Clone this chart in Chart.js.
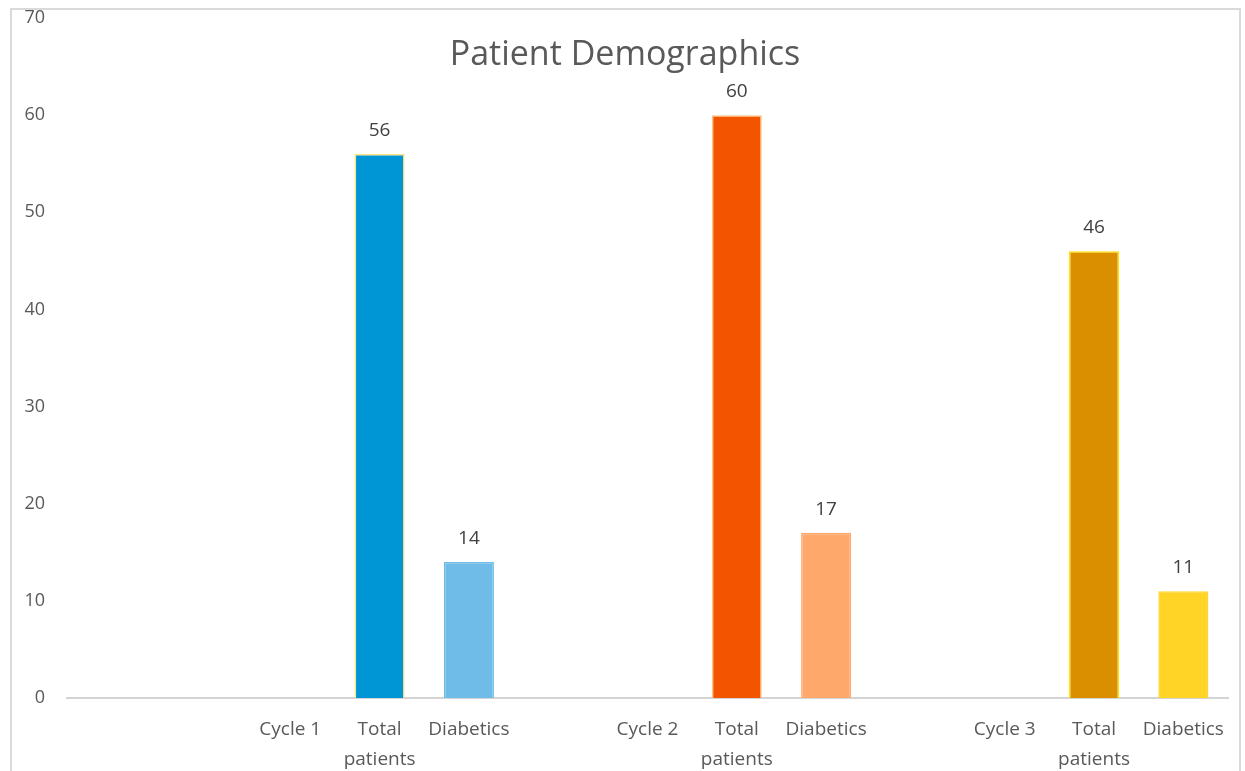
<!DOCTYPE html>
<html>
<head>
<meta charset="utf-8">
<title>Patient Demographics</title>
<script src="https://cdn.jsdelivr.net/npm/chart.js@4.4.1/dist/chart.umd.min.js"></script>
<style>
  html, body { margin: 0; padding: 0; background: #fff; }
  canvas { display: block; }
</style>
</head>
<body>
<canvas id="chart" width="1245" height="771"></canvas>
<script>
// category slots (empty ones are the gaps between cycles)
const categories = ['', '', 'Cycle 1', ['Total', 'patients'], 'Diabetics', '',
                    'Cycle 2', ['Total', 'patients'], 'Diabetics', '',
                    'Cycle 3', ['Total', 'patients'], 'Diabetics'];
const patientCounts = [null, null, null, 56, 14, null, null, 60, 17, null, null, 46, 11];
const yTicks = [0, 10, 20, 30, 40, 50, 60, 70];

const barColors = [null, null, null, '#0096d6', '#6fbce8', null,
                   null, '#f35400', '#ffa86c', null,
                   null, '#d98f00', '#ffd426'];
const barBorders = [null, null, null, '#ffe27a', '#6fbce8', null,
                    null, '#ffc27a', '#ffa86c', null,
                    null, '#ffe000', '#ffd426'];

const fontFamily = '"Open Sans", "Noto Sans", sans-serif';

// frame around the whole picture + title drawn over the plot
const framePlugin = {
    id: 'frame',
    beforeDraw(chart) {
        const ctx = chart.ctx;
        ctx.save();
        ctx.strokeStyle = '#dadada';
        ctx.lineWidth = 2;
        ctx.strokeRect(11, 9, 1229, 775);
        ctx.restore();
    },
    afterDraw(chart) {
        const ctx = chart.ctx;
        ctx.save();
        ctx.fillStyle = '#595959';
        ctx.font = '34px ' + fontFamily;
        ctx.textAlign = 'center';
        ctx.textBaseline = 'middle';
        ctx.fillText('Patient Demographics', 625, 55);
        ctx.restore();
    }
};

// value labels on top of the bars
const valueLabels = {
    id: 'valueLabels',
    afterDatasetsDraw(chart) {
        const ctx = chart.ctx;
        const meta = chart.getDatasetMeta(0);
        ctx.save();
        ctx.fillStyle = '#404040';
        ctx.font = '19px ' + fontFamily;
        ctx.textAlign = 'center';
        ctx.textBaseline = 'bottom';
        meta.data.forEach((bar, i) => {
            const v = chart.data.datasets[0].data[i];
            if (v === null || v === undefined) return;
            ctx.fillText(String(v), bar.x, bar.y - 14);
        });
        ctx.restore();
    }
};

new Chart(document.getElementById('chart'), {
    type: 'bar',
    data: {
        labels: categories,
        datasets: [{
            data: patientCounts,
            backgroundColor: barColors,
            borderColor: barBorders,
            borderWidth: 1.5,
            barPercentage: 0.56,
            categoryPercentage: 1
        }]
    },
    options: {
        responsive: false,
        animation: false,
        layout: { padding: { top: 0, right: 17, bottom: 0, left: 0 } },
        plugins: {
            legend: { display: false },
            title: { display: false },
            tooltip: { enabled: false }
        },
        scales: {
            x: {
                grid: { display: false },
                border: { display: true, color: '#d4d4d4', width: 2 },
                ticks: {
                    color: '#595959',
                    font: { family: fontFamily, size: 19, lineHeight: 1.55 },
                    padding: 9,
                    maxRotation: 0,
                    autoSkip: false
                },
                afterFit(scale) { scale.height = 73; }
            },
            y: {
                min: 0,
                max: 70,
                afterBuildTicks(scale) { scale.ticks = yTicks.map(v => ({ value: v })); },
                grid: { display: false, drawTicks: false },
                border: { display: false },
                ticks: {
                    color: '#595959',
                    font: { family: fontFamily, size: 18 },
                    padding: 22
                },
                afterFit(scale) {
                    scale.width = 67;
                    scale.paddingTop = 18;
                    scale.paddingBottom = 0;
                }
            }
        }
    },
    plugins: [framePlugin, valueLabels]
});
</script>
</body>
</html>
